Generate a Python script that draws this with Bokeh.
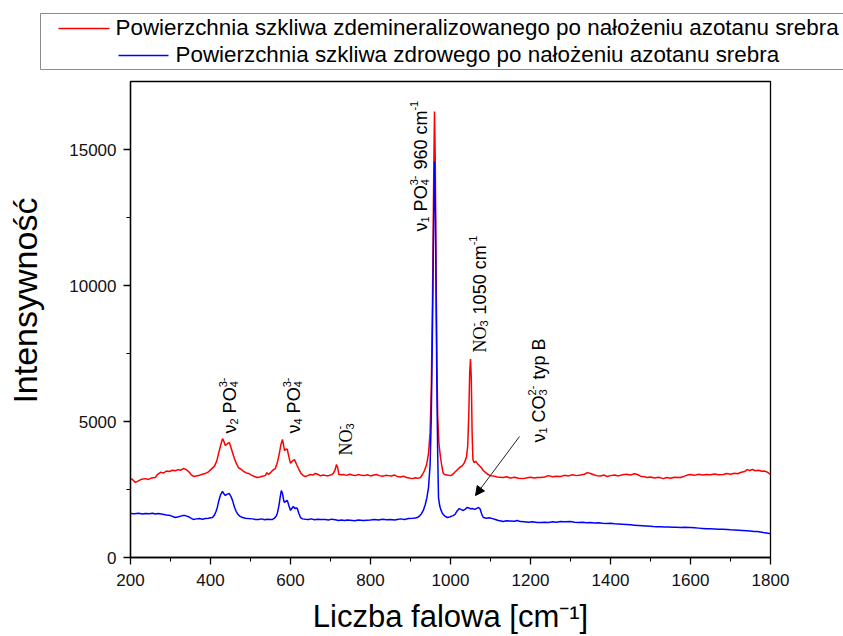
from math import pi
from bokeh.plotting import figure
from bokeh.models import Range1d, FixedTicker, Label, Arrow, NormalHead, Plot, Legend, LegendItem
from bokeh.layouts import column
from bokeh.embed import file_html
from bokeh.resources import INLINE
from bokeh.core.properties import value

# ---------------- data ----------------
series_names = [
    "Powierzchnia szkliwa zdemineralizowanego po nałożeniu azotanu srebra",
    "Powierzchnia szkliwa zdrowego po nałożeniu azotanu srebra",
]

wavenumber_red = [200, 205, 212, 220, 228, 237, 245, 252, 262, 268, 275, 283, 290, 297, 305, 312, 320, 326, 332, 338,
                  342, 348, 352, 358, 365, 372, 380, 387, 395, 402, 410, 416, 420, 425, 430, 434, 437, 442, 447, 451,
                  455, 460, 465, 470, 476, 483, 490, 495, 502, 510, 517, 523, 530, 537, 541, 545, 550, 555, 562, 567,
                  572, 576, 580, 583, 585, 589, 592, 596, 600, 605, 610, 615, 620, 626, 632, 637, 643, 650, 656, 662,
                  668, 675, 682, 689, 695, 702, 707, 711, 715, 718, 721, 726, 732, 740, 748, 755, 762, 770, 778, 785,
                  792, 800, 808, 815, 822, 830, 838, 845, 852, 860, 867, 875, 882, 890, 897, 905, 912, 918, 925, 930,
                  935, 940, 945, 949, 952, 955, 958, 960, 962, 964, 966, 968, 971, 975, 979, 982, 987, 992, 1000, 1006,
                  1012, 1016, 1020, 1025, 1030, 1034, 1037, 1040, 1043, 1046, 1048, 1050, 1052, 1054, 1056, 1059, 1063,
                  1067, 1072, 1077, 1082, 1088, 1094, 1100, 1108, 1116, 1124, 1132, 1140, 1150, 1160, 1170, 1182, 1192,
                  1200, 1210, 1217, 1225, 1235, 1245, 1255, 1265, 1275, 1285, 1295, 1305, 1315, 1325, 1335, 1342, 1350,
                  1358, 1366, 1375, 1384, 1392, 1400, 1410, 1420, 1430, 1440, 1450, 1460, 1467, 1475, 1485, 1492, 1500,
                  1510, 1520, 1532, 1540, 1550, 1560, 1575, 1585, 1592, 1600, 1610, 1620, 1630, 1640, 1650, 1660, 1670,
                  1682, 1690, 1700, 1710, 1718, 1725, 1735, 1742, 1748, 1755, 1762, 1770, 1778, 1785, 1792, 1800]
intensity_red = [2900, 2870, 2760, 2820, 2880, 2900, 2870, 2920, 2940, 3060, 3130, 3110, 3180, 3160, 3210, 3190, 3230,
                 3210, 3270, 3240, 3200, 3120, 3040, 2980, 3000, 3020, 3060, 3090, 3150, 3250, 3360, 3560, 3820, 4100,
                 4370, 4250, 4120, 4180, 4230, 4050, 3860, 3620, 3450, 3300, 3250, 3160, 3110, 3090, 3030, 2980, 2940,
                 2960, 2990, 3010, 3120, 3050, 3120, 3200, 3270, 3480, 3820, 4150, 4340, 4100, 3930, 3990, 3970, 3700,
                 3460, 3550, 3600, 3430, 3270, 3100, 3010, 2980, 3010, 3050, 3030, 3090, 3060, 3000, 3030, 3010, 3010,
                 3040, 3090, 3200, 3420, 3300, 3050, 3040, 3050, 3020, 3060, 3030, 3010, 3050, 3020, 3010, 3040, 3000,
                 3030, 3050, 3010, 2990, 3020, 3010, 3000, 3030, 2980, 2960, 2990, 2940, 2920, 2900, 2930, 2910, 2940,
                 3050, 3200, 3400, 3820, 4600, 6200, 9500, 14000, 16400, 14500, 10500, 7200, 5200, 4200, 3680, 3300,
                 3090, 3040, 3030, 3010, 3060, 3150, 3210, 3270, 3330, 3380, 3470, 3570, 3700, 4100, 5400, 6800, 7300,
                 6600, 4600, 3600, 3480, 3540, 3460, 3380, 3300, 3200, 3120, 3050, 3010, 3000, 2960, 2950, 2940, 2970,
                 2920, 2950, 2910, 2900, 2930, 2950, 2920, 2940, 2940, 2960, 3010, 2970, 2990, 2980, 3020, 3000, 3040,
                 3010, 3030, 3060, 3120, 3090, 3040, 3010, 3000, 3030, 2980, 3010, 3030, 3000, 3040, 3060, 3030, 3080,
                 3050, 2990, 2970, 2940, 2960, 2920, 2950, 2900, 2940, 2910, 2950, 2940, 2990, 3030, 3050, 3020, 3060,
                 3030, 3050, 3040, 3070, 3040, 3050, 3090, 3060, 3100, 3080, 3125, 3160, 3230, 3200, 3235, 3190, 3210,
                 3170, 3180, 3140, 3060]

wavenumber_blue = [200, 210, 220, 230, 237, 247, 255, 262, 270, 280, 290, 300, 312, 320, 330, 337, 345, 352, 357, 365,
                   372, 380, 387, 395, 400, 405, 410, 414, 417, 421, 425, 430, 433, 437, 442, 447, 451, 455, 460, 464,
                   467, 473, 480, 487, 495, 505, 512, 520, 528, 535, 542, 549, 555, 560, 564, 567, 571, 574, 577, 580,
                   583, 585, 588, 592, 596, 600, 604, 607, 611, 614, 617, 621, 625, 630, 637, 645, 652, 660, 668, 676,
                   687, 695, 703, 712, 720, 728, 735, 742, 750, 760, 770, 782, 790, 800, 810, 820, 830, 840, 850, 860,
                   867, 875, 885, 895, 905, 912, 917, 922, 927, 932, 937, 941, 945, 949, 952, 955, 958, 960, 962, 964,
                   966, 968, 970, 973, 976, 980, 986, 992, 998, 1003, 1007, 1012, 1017, 1022, 1027, 1032, 1037, 1042,
                   1046, 1050, 1055, 1060, 1065, 1070, 1074, 1078, 1082, 1090, 1097, 1105, 1112, 1120, 1126, 1132, 1140,
                   1150, 1160, 1167, 1175, 1185, 1195, 1205, 1217, 1225, 1235, 1245, 1255, 1265, 1275, 1285, 1300, 1310,
                   1320, 1330, 1340, 1350, 1360, 1370, 1380, 1392, 1400, 1410, 1420, 1430, 1440, 1450, 1460, 1470, 1480,
                   1490, 1500, 1507, 1515, 1525, 1535, 1545, 1555, 1565, 1575, 1585, 1600, 1610, 1620, 1630, 1640, 1650,
                   1660, 1670, 1680, 1692, 1700, 1710, 1720, 1730, 1740, 1750, 1758, 1767, 1775, 1782, 1790, 1797, 1800]
intensity_blue = [1620, 1610, 1630, 1600, 1620, 1610, 1630, 1600, 1620, 1590, 1560, 1540, 1470, 1500, 1540, 1540, 1500,
                  1440, 1400, 1420, 1430, 1410, 1430, 1440, 1460, 1470, 1560, 1700, 1840, 2100, 2300, 2430, 2350, 2280,
                  2330, 2350, 2250, 2100, 1850, 1700, 1620, 1520, 1470, 1440, 1430, 1420, 1400, 1400, 1420, 1390, 1410,
                  1400, 1400, 1450, 1520, 1620, 1900, 2200, 2460, 2350, 2100, 2020, 2060, 2100, 1900, 1730, 1820, 1880,
                  1800, 1820, 1800, 1620, 1470, 1420, 1410, 1400, 1420, 1390, 1410, 1400, 1400, 1380, 1410, 1390, 1360,
                  1380, 1360, 1380, 1370, 1350, 1380, 1360, 1370, 1380, 1400, 1380, 1410, 1390, 1400, 1380, 1400, 1420,
                  1400, 1430, 1440, 1450, 1470, 1520, 1600, 1730, 1950, 2200, 2570, 3400, 5200, 8500, 12500, 14560,
                  13000, 9500, 6200, 3800, 2200, 1900, 1750, 1620, 1520, 1470, 1490, 1520, 1540, 1600, 1720, 1800, 1760,
                  1730, 1780, 1840, 1820, 1790, 1800, 1770, 1800, 1840, 1780, 1600, 1470, 1440, 1460, 1430, 1400, 1360,
                  1340, 1320, 1350, 1340, 1330, 1360, 1320, 1310, 1300, 1310, 1290, 1290, 1300, 1290, 1310, 1300, 1320,
                  1310, 1320, 1300, 1290, 1300, 1280, 1290, 1270, 1280, 1260, 1250, 1260, 1240, 1230, 1220, 1210, 1200,
                  1190, 1180, 1170, 1160, 1150, 1140, 1130, 1130, 1120, 1120, 1110, 1110, 1100, 1110, 1100, 1090, 1080,
                  1070, 1060, 1060, 1050, 1040, 1040, 1030, 1020, 1010, 1000, 990, 980, 970, 960, 960, 940, 920, 900,
                  880, 870]

x_ticks = [200, 400, 600, 800, 1000, 1200, 1400, 1600, 1800]
x_minor_ticks = [300, 500, 700, 900, 1100, 1300, 1500, 1700]
y_ticks = [0, 5000, 10000, 15000]
y_minor_ticks = [2500, 7500, 12500]

x_title = "Liczba falowa [cm⁻¹]"
y_title = "Intensywność"

SANS = "Liberation Sans"
SERIF = "Liberation Serif"
W = 843
HAS_FA = "frame_align" in Plot.properties()
LEG_H = 78 if HAS_FA else 0

# ---------------- main figure ----------------
p = figure(width=W, height=636 - LEG_H, x_range=Range1d(200, 1800), y_range=Range1d(0, 17500),
           output_backend="svg", toolbar_location=None,
           min_border_left=130, min_border_right=73, min_border_top=81 - LEG_H, min_border_bottom=79)
if HAS_FA:
    p.frame_align = False
p.xgrid.visible = False
p.ygrid.visible = False
p.outline_line_color = "black"
p.outline_line_width = 1.3
p.outline_line_alpha = 1.0
p.background_fill_color = "white"
p.border_fill_color = "white"

r_red = p.line(wavenumber_red, intensity_red, line_color="#ff0000", line_width=1.5)
r_blue = p.line(wavenumber_blue, intensity_blue, line_color="#0000ff", line_width=1.5)

p.xaxis.ticker = FixedTicker(ticks=x_ticks, minor_ticks=x_minor_ticks)
p.yaxis.ticker = FixedTicker(ticks=y_ticks, minor_ticks=y_minor_ticks)
for ax in (p.xaxis[0], p.yaxis[0]):
    ax.axis_line_width = 1.3
    ax.axis_line_color = "black"
    ax.major_tick_line_width = 1.3
    ax.major_tick_line_color = "black"
    ax.minor_tick_line_width = 1.1
    ax.minor_tick_line_color = "black"
    ax.major_tick_in = 0
    ax.major_tick_out = 7
    ax.minor_tick_in = 0
    ax.minor_tick_out = 4
    ax.major_label_text_font = SANS
    ax.major_label_text_font_size = "17px"
    ax.major_label_text_color = "#111111"
    ax.axis_label_text_font = SANS
    ax.axis_label_text_font_style = "normal"
    ax.axis_label_text_color = "black"
p.xaxis.major_label_standoff = 9
p.yaxis.major_label_standoff = 7

p.xaxis.axis_label = x_title
p.xaxis.axis_label_text_font_size = "31px"
p.xaxis.axis_label_standoff = 10

# leading no-break spaces shift the visible title upward as in the reference
p.yaxis.axis_label = "\u00a0" * 4 + y_title
p.yaxis.axis_label_text_font_size = "34px"
p.yaxis.axis_label_standoff = 22


def dx(px):
    return 200 + (px - 130) * 2.5


def dy(py):
    return (557 - py) / 0.0272


# ---------------- rotated peak annotations ----------------
WID = {' ': 0.278, '-': 0.333, 'ν': 0.5, 'P': 0.667, 'O': 0.778, 'C': 0.722, 'B': 0.667, 'N': 0.722,
       'c': 0.5, 'm': 0.833, 't': 0.278, 'y': 0.5, 'p': 0.556}
WID_SERIF = {'N': 0.722, 'O': 0.722}
MAIN, SMALL = 18, 11


def tw(s, size, serif=False):
    tot = 0.0
    for ch in s:
        if ch.isdigit():
            tot += 0.556
        else:
            tot += (WID_SERIF if serif else WID).get(ch, 0.55)
    return tot * size


def put(text, bx, sy, size, serif=False):
    p.add_layout(Label(x=dx(bx), y=dy(sy), text=text, angle=pi / 2, text_align="left",
                       text_baseline="alphabetic", text_font=SERIF if serif else SANS,
                       text_font_size=f"{size}px", text_color="black"))


def rot_label(pieces, bx, sy):
    for kind, txt, *rest in pieces:
        serif = bool(rest and rest[0])
        if kind == "sp":
            sy -= tw(" ", MAIN)
        elif kind == "n":
            put(txt, bx, sy, MAIN, serif)
            sy -= tw(txt, MAIN, serif)
        elif kind == "sub":
            put(txt, bx + 4, sy, SMALL)
            sy -= tw(txt, SMALL)
        elif kind == "sup":
            put(txt, bx - 7, sy, SMALL)
            sy -= tw(txt, SMALL)
        elif kind == "stack":
            sub, sup = txt
            if sub:
                put(sub, bx + 4, sy, SMALL)
            if sup:
                put(sup, bx - 7, sy, SMALL)
            sy -= max(tw(sub, SMALL), tw(sup, SMALL)) + 1


SP = ("sp", "")
rot_label([("n", "ν"), ("sub", "2"), SP, ("n", "PO"), ("stack", ("4", "3-"))], 229, 433)
rot_label([("n", "ν"), ("sub", "4"), SP, ("n", "PO"), ("stack", ("4", "3-"))], 293, 433)
rot_label([("n", "NO", True), ("stack", ("3", "-"))], 345, 455)
rot_label([("n", "ν"), ("sub", "1"), SP, ("n", "PO"), ("stack", ("4", "3-")), SP, ("n", "960 cm"), ("sup", "-1")],
          420, 231)
rot_label([("n", "NO", True), ("stack", ("3", "-")), SP, ("n", "1050 cm"), ("sup", "-1")], 479, 352)
rot_label([("n", "ν"), ("sub", "1"), SP, ("n", "CO"), ("stack", ("3", "2-")), SP, ("n", "typ B")], 538, 442)

p.add_layout(Arrow(x_start=dx(519), y_start=dy(436), x_end=dx(475), y_end=dy(495),
                   line_color="#222222", line_width=1,
                   end=NormalHead(size=9, fill_color="black", line_color="black")))

legend_colors = ["#ff0000", "#0000ff"]

if HAS_FA:
    # ---------------- legend strip (own canvas, pixel coordinates) ----------------
    leg = figure(width=W, height=LEG_H, x_range=Range1d(0, W), y_range=Range1d(0, LEG_H),
                 output_backend="svg", toolbar_location=None, min_border=0,
                 x_axis_type=None, y_axis_type=None, outline_line_color=None)
    leg.frame_align = False
    leg.grid.visible = False

    def ly(py):
        return LEG_H - py

    leg.segment(x0=[40, 40, 40], y0=[ly(13), ly(69), ly(13)], x1=[900, 900, 40], y1=[ly(13), ly(69), ly(69)],
                line_color="#8c8c8c", line_width=1)
    leg.segment(x0=[58, 118], y0=[ly(28), ly(55)], x1=[109, 168], y1=[ly(28), ly(55)],
                line_color=legend_colors, line_width=1.6)
    leg.text(x=[115, 175], y=[ly(27), ly(54)], text=series_names,
             text_font=value(SANS), text_font_size="22.4px", text_baseline="alphabetic",
             text_align="left", text_color="black")
    root = column(leg, p, spacing=0)
else:
    for rend, name in ((r_blue, series_names[1]), (r_red, series_names[0])):
        lg = Legend(items=[LegendItem(label=name, renderers=[rend])], location="center",
                    orientation="vertical", glyph_width=51, glyph_height=20, label_standoff=6,
                    padding=1, margin=0, spacing=0, border_line_color=None, background_fill_alpha=0,
                    label_text_font=SANS, label_text_font_size="22px", label_text_color="black")
        p.add_layout(lg, "above")
    root = p

open("out.html", "w").write(file_html(root, INLINE))
